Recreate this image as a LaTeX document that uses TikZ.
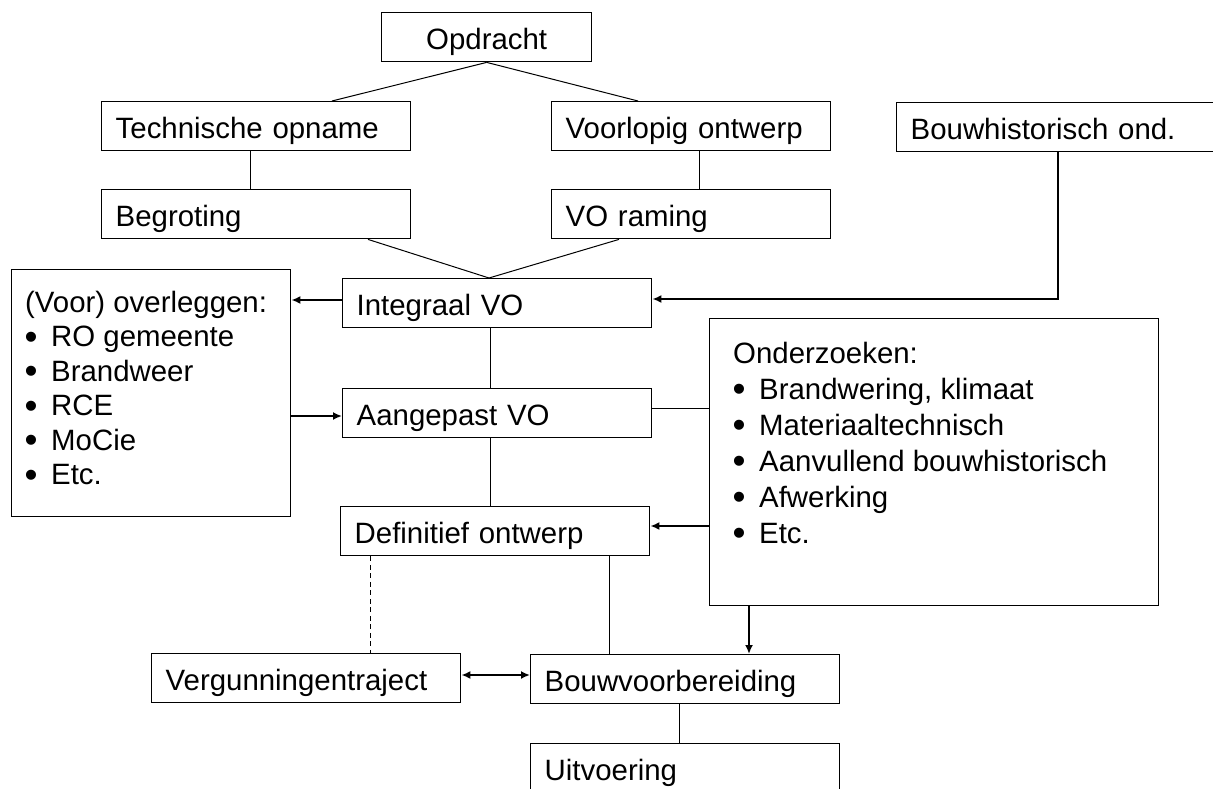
\documentclass[tikz,border=0pt]{standalone}
\usepackage{fontspec}
\setmainfont{Liberation Sans}
\usetikzlibrary{arrows.meta,calc}
\newcommand{\bitem}[1]{\makebox[26pt][l]{\hspace*{-0.5pt}\raisebox{-2.5pt}{\fontsize{37}{36}\selectfont •}}#1}
\begin{document}
\begin{tikzpicture}[x=1pt,y=-1pt,
  every node/.style={font=\fontsize{29.4}{36}\selectfont},
  flowbox/.style={draw, line width=1.4pt, anchor=north west, inner xsep=14pt, inner ysep=0pt,
    minimum height=49pt, text height=26pt, text depth=1pt, align=left, text width=#1},
  cbox/.style={draw, line width=1.4pt, anchor=north west, inner sep=0pt,
    minimum width=210pt, minimum height=49pt, text height=26pt, text depth=1pt},
  bigbox/.style={draw, line width=1.4pt, anchor=north west, inner sep=0pt},
  txt/.style={anchor=base west, inner sep=0pt},
  conn/.style={line width=1pt},
  arr/.style={line width=1.8pt, -{Latex[length=9pt,width=8pt]}},
  arrb/.style={line width=1.8pt, {Latex[length=9pt,width=8pt]}-{Latex[length=9pt,width=8pt]}},
  dconn/.style={line width=1pt, dash pattern=on 5pt off 3.5pt},
]
\useasboundingbox (0,0) rectangle (1213,789);
\clip (0,0) rectangle (1213,789);

% boxes
\node[cbox] (op) at (381,12) {Opdracht};
\node[flowbox=281pt] (tech) at (101,101) {Technische opname};
\node[flowbox=251pt] (vo) at (551,101) {Voorlopig ontwerp};
\node[flowbox=302pt] (bh) at (896,102) {Bouwhistorisch ond.};
\node[flowbox=281pt] (beg) at (101,189) {Begroting};
\node[flowbox=251pt] (vor) at (551,189) {VO raming};
\node[flowbox=281pt] (int) at (342,278) {Integraal VO};
\node[flowbox=281pt] (aan) at (342,388) {Aangepast VO};
\node[flowbox=281pt] (def) at (340,506) {Definitief ontwerp};
\node[flowbox=281pt] (verg) at (151,653) {Vergunningentraject};
\node[flowbox=281pt] (bouw) at (530,654) {Bouwvoorbereiding};
\node[flowbox=281pt] (uit) at (530,743) {Uitvoering};

\node[bigbox, minimum width=279pt, minimum height=247pt] (over) at (11,269) {};
\node[txt, font=\fontsize{29.4}{34.5}\selectfont] (overtxt) at (25,312)
  {\begin{tabular}[t]{@{}l@{}}(Voor) overleggen:\\ \bitem{RO gemeente}\\ \bitem{Brandweer}\\ \bitem{RCE}\\ \bitem{MoCie}\\ \bitem{Etc.}\end{tabular}};

\node[bigbox, minimum width=449pt, minimum height=287pt] (ond) at (709,318) {};
\node[txt, font=\fontsize{29.4}{36}\selectfont] (ondtxt) at (733,363)
  {\begin{tabular}[t]{@{}l@{}}Onderzoeken:\\ \bitem{Brandwering, klimaat}\\ \bitem{Materiaaltechnisch}\\ \bitem{Aanvullend bouwhistorisch}\\ \bitem{Afwerking}\\ \bitem{Etc.}\end{tabular}};

% connectors
\draw[conn] (op.south) -- ($(tech.north west)+(231,0)$);
\draw[conn] (op.south) -- ($(vo.north west)+(87,0)$);
\draw[conn] ($(tech.south west)+(149,0)$) -- ($(beg.north west)+(149,0)$);
\draw[conn] ($(vo.south west)+(148,0)$) -- ($(vor.north west)+(148,0)$);
\draw[conn] ($(beg.south west)+(267,0)$) -- ($(int.north west)+(147,0)$);
\draw[conn] ($(vor.south west)+(68,0)$) -- ($(int.north west)+(147,0)$);
\draw[arr] ($(bh.south west)+(162,0)$) |- ($(int.north east)+(0,21)$);
\draw[arr] ($(int.north west)+(0,22)$) -- ($(over.north east)+(0,31)$);
\draw[arr] ($(over.north east)+(0,147)$) -- ($(aan.north west)+(0,28)$);
\draw[conn] ($(int.south west)+(148,0)$) -- ($(aan.north west)+(148,0)$);
\draw[conn] ($(aan.north east)+(0,20)$) -- ($(ond.north west)+(0,90)$);
\draw[conn] ($(aan.south west)+(148,0)$) -- ($(def.north west)+(150,0)$);
\draw[arr] ($(ond.north west)+(0,208)$) -- ($(def.north east)+(0,20)$);
\draw[arr] ($(ond.south west)+(40,0)$) -- ($(bouw.north west)+(219,0)$);
\draw[conn] ($(def.south west)+(269,0)$) -- ($(bouw.north west)+(79,0)$);
\draw[dconn] ($(def.south west)+(30,0)$) -- ($(verg.north west)+(219,0)$);
\draw[arrb] ($(verg.north east)+(0,22)$) -- ($(bouw.north west)+(0,21)$);
\draw[conn] ($(bouw.south west)+(149,0)$) -- ($(uit.north west)+(149,0)$);
\end{tikzpicture}
\end{document}
